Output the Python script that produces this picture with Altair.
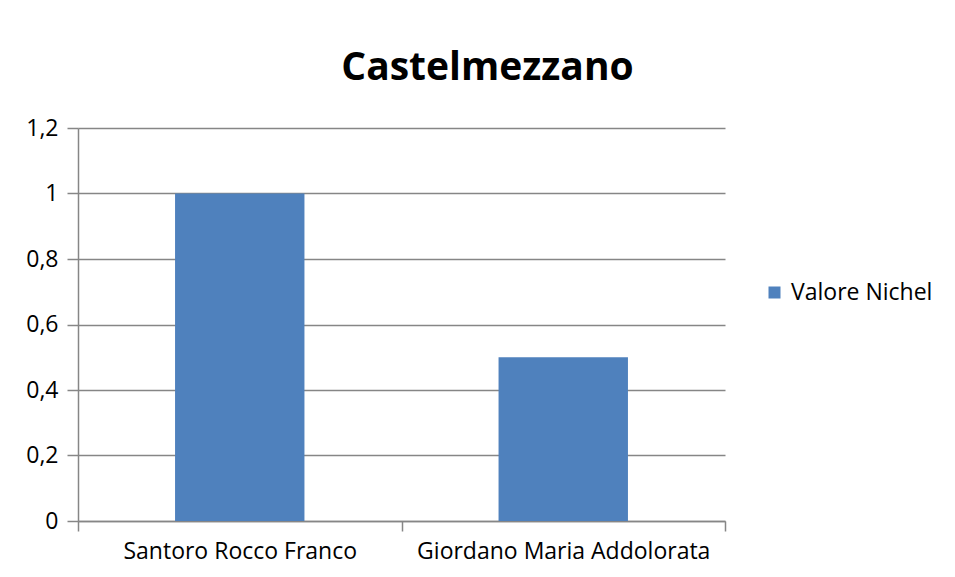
import altair as alt
import pandas as pd

categories = ["Santoro Rocco Franco", "Giordano Maria Addolorata"]
values = [1.0, 0.5]
series_name = "Valore Nichel"
y_ticks = [0, 0.2, 0.4, 0.6, 0.8, 1.0, 1.2]

df = pd.DataFrame({"nome": categories, "valore": values, "serie": [series_name] * len(categories)})

FONT = "Open Sans"
GRID = "#868686"

chart = alt.Chart(df).mark_bar(color="#4F81BD", width=alt.RelativeBandSize(0.4)).encode(
    x=alt.X(
        "nome:N",
        sort=categories,
        title=None,
        scale=alt.Scale(paddingInner=0, paddingOuter=0),
        axis=alt.Axis(
            labelAngle=0,
            labelFont=FONT,
            labelFontSize=23,
            labelColor="#000000",
            labelPadding=9,
            labelLimit=0,
            tickBand="extent",
            tickSize=10,
            tickColor=GRID,
            domainColor=GRID,
            tickWidth=1.5,
            domainWidth=1.5,
        ),
    ),
    y=alt.Y(
        "valore:Q",
        title=None,
        scale=alt.Scale(domain=[0, 1.2], nice=False),
        axis=alt.Axis(
            values=y_ticks,
            labelExpr="replace(format(datum.value, '.1~f'), '.', ',')",
            labelFont=FONT,
            labelFontSize=23,
            labelColor="#000000",
            labelPadding=9,
            tickSize=11,
            tickColor=GRID,
            domainColor=GRID,
            gridColor=GRID,
            gridWidth=1.5,
            tickWidth=1.5,
            domainWidth=1.5,
        ),
    ),
    color=alt.Color(
        "serie:N",
        scale=alt.Scale(domain=[series_name], range=["#4F81BD"]),
        legend=alt.Legend(
            title=None,
            orient="none",
            legendX=685,
            legendY=153,
            symbolType="square",
            symbolSize=144,
            symbolStrokeWidth=0,
            symbolOffset=0,
            labelFont=FONT,
            labelFontSize=23,
            labelColor="#000000",
            labelOffset=5,
            labelLimit=300,
            padding=0,
        ),
    ),
).properties(
    width=647,
    height=393,
    title=alt.TitleParams(
        "Castelmezzano",
        font=FONT,
        fontSize=39,
        fontWeight="bold",
        color="#000000",
        anchor="middle",
        baseline="alphabetic",
        dx=86,
        dy=50,
        offset=48,
    ),
    padding={"left": 70, "top": 120, "right": 220, "bottom": 48},
    autosize=alt.AutoSizeParams(type="none"),
).configure_view(stroke=None)

chart.save("out.html", embed_options={"renderer": "svg", "actions": False})
